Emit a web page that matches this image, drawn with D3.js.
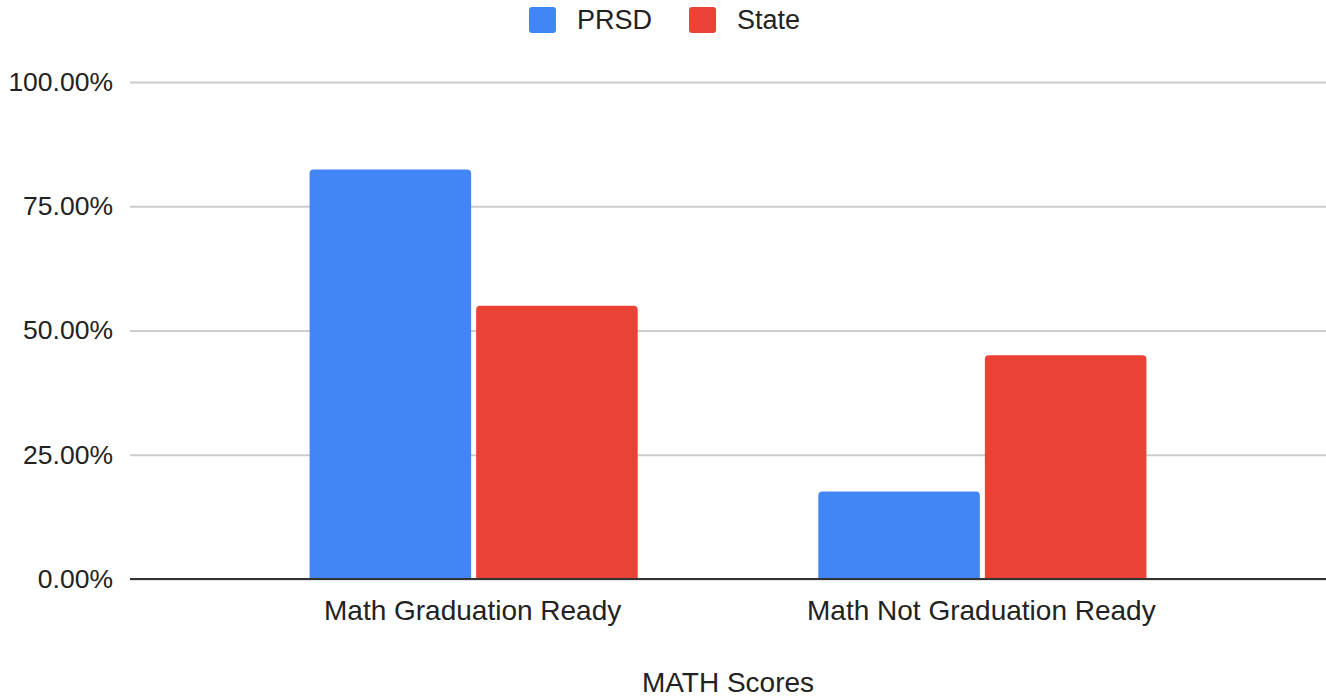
<!DOCTYPE html>
<html lang="en">
  <head>
    <meta charset="utf-8">
    <title>MATH Scores</title>
    <style>
      html, body { margin: 0; padding: 0; background: #fff; }
    </style>
  </head>
  <body>
    <svg id="canvas"></svg>

    <script src="https://cdn.jsdelivr.net/npm/d3@7"></script>
    <script>

      const width = 1326;
      const height = 697;

      // data
      const categories = ["Math Graduation Ready", "Math Not Graduation Ready"];
      const series = ["PRSD", "State"];
      const prsdValues = [0.824, 0.176];
      const stateValues = [0.55, 0.45];
      const yTicks = [0, 0.25, 0.5, 0.75, 1];
      const colors = ["#4285f4", "#ea4335"];

      const values = [prsdValues, stateValues];
      const fontFamily = "'Liberation Sans', Arial, sans-serif";
      const textColor = "#222";

      const margin = { top: 82, right: 0, bottom: 118, left: 130 };

      const svg = d3.select("#canvas")
        .attr("width", width)
        .attr("height", height)
        .attr("viewBox", [0, 0, width, height])
        .style("display", "block");

      const x0 = d3.scaleBand()
        .domain(categories)
        .range([margin.left, width - margin.right])
        .paddingInner(0.355)
        .paddingOuter(0.353);

      const x1 = d3.scaleBand()
        .domain(series)
        .range([0, x0.bandwidth()])
        .paddingInner(0.03);

      const y = d3.scaleLinear()
        .domain([0, 1])
        .range([height - margin.bottom, margin.top]);

      // gridlines + y labels
      const yAxis = svg.append("g")
        .call(d3.axisLeft(y)
          .tickValues(yTicks)
          .tickSize(-(width - margin.left - margin.right))
          .tickPadding(17)
          .tickFormat(d => (d * 100).toFixed(2) + "%"))
        .attr("transform", `translate(${margin.left},0)`);

      yAxis.select(".domain").remove();
      yAxis.selectAll(".tick line")
        .attr("stroke", "#cccccc")
        .attr("stroke-width", 2);
      yAxis.selectAll(".tick text")
        .attr("font-family", fontFamily)
        .attr("font-size", 26.5)
        .attr("fill", textColor);

      // bars with rounded top corners
      function barPath(x, yTop, w, yBase, r) {
        const p = d3.path();
        p.moveTo(x, yBase);
        p.lineTo(x, yTop + r);
        p.quadraticCurveTo(x, yTop, x + r, yTop);
        p.lineTo(x + w - r, yTop);
        p.quadraticCurveTo(x + w, yTop, x + w, yTop + r);
        p.lineTo(x + w, yBase);
        p.closePath();
        return p.toString();
      }

      const groups = svg.append("g")
        .selectAll("g")
        .data(categories)
        .join("g")
        .attr("transform", d => `translate(${x0(d)},0)`);

      groups.selectAll("path")
        .data((d, i) => series.map((s, j) => ({ s, j, v: values[j][i] })))
        .join("path")
        .attr("fill", d => colors[d.j])
        .attr("d", d => barPath(x1(d.s), y(d.v), x1.bandwidth(), y(0), 4));

      // baseline
      svg.append("line")
        .attr("x1", margin.left)
        .attr("x2", width - margin.right)
        .attr("y1", y(0))
        .attr("y2", y(0))
        .attr("stroke", "#333")
        .attr("stroke-width", 2);

      // category labels
      svg.append("g")
        .selectAll("text")
        .data(categories)
        .join("text")
        .attr("x", d => x0(d) + x0.bandwidth() / 2 - 1)
        .attr("y", 620)
        .attr("text-anchor", "middle")
        .attr("font-family", fontFamily)
        .attr("font-size", 28)
        .attr("fill", textColor)
        .text(d => d);

      // axis title
      svg.append("text")
        .attr("x", (margin.left + width - margin.right) / 2)
        .attr("y", 692)
        .attr("text-anchor", "middle")
        .attr("font-family", fontFamily)
        .attr("font-size", 28)
        .attr("fill", textColor)
        .text("MATH Scores");

      // legend
      let lx = 529;
      series.forEach((s, i) => {
        svg.append("rect")
          .attr("x", lx)
          .attr("y", 7)
          .attr("width", 27)
          .attr("height", 26)
          .attr("rx", 3)
          .attr("fill", colors[i]);
        const t = svg.append("text")
          .attr("x", lx + 48)
          .attr("y", 29)
          .attr("font-family", fontFamily)
          .attr("font-size", 27)
          .attr("fill", textColor)
          .text(s);
        lx += 48 + t.node().getComputedTextLength() + 37;
      });

    </script>
  </body>
</html>
